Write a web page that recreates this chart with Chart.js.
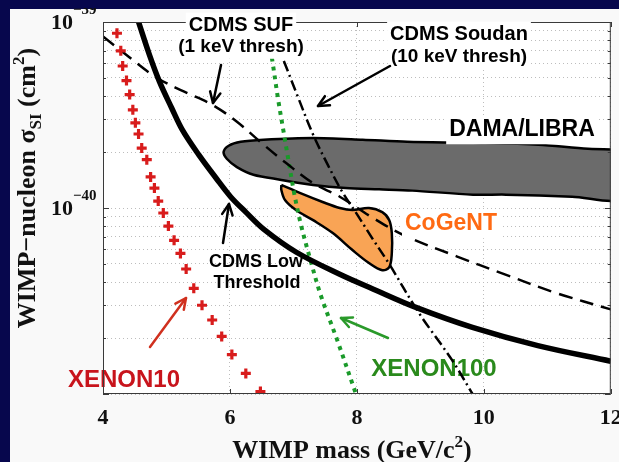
<!DOCTYPE html>
<html>
<head>
<meta charset="utf-8">
<script src="https://cdn.jsdelivr.net/npm/chart.js@4.4.0/dist/chart.umd.min.js"></script>
<style>
  html, body { margin: 0; padding: 0; background: #07074d; }
  #wrap { width: 619px; height: 462px; }
</style>
</head>
<body>
<div id="wrap"><canvas id="limits" width="619" height="462"></canvas></div>
<script>
// WIMP mass (GeV/c^2) and spin-independent cross section (cm^2)
const xenon10Mass  = [4.22, 4.28, 4.31, 4.37, 4.42, 4.47, 4.51, 4.56, 4.61, 4.69, 4.75, 4.81, 4.87, 4.95, 5.03, 5.12, 5.22, 5.31, 5.43, 5.56, 5.72, 5.87, 6.03, 6.25, 6.48];
const xenon10Sigma = [8.7e-40, 7.0e-40, 5.8e-40, 4.84e-40, 4.07e-40, 3.37e-40, 2.87e-40, 2.5e-40, 2.1e-40, 1.82e-40, 1.47e-40, 1.28e-40, 1.09e-40, 9.4e-41, 8.0e-41, 6.7e-41, 5.7e-41, 4.7e-41, 3.7e-41, 3.0e-41, 2.5e-41, 2.04e-41, 1.63e-41, 1.29e-41, 1.03e-41];

const cdmsLowMass  = [4.56, 4.73, 4.89, 5.08, 5.25, 5.51, 5.78, 6.01, 6.25, 6.53, 7.04, 7.73, 8.26, 8.93, 9.82, 10.85, 12.0];
const cdmsLowSigma = [1.0e-39, 6.68e-40, 4.78e-40, 3.46e-40, 2.63e-40, 1.93e-40, 1.45e-40, 1.15e-40, 9.5e-41, 7.7e-41, 5.8e-41, 4.4e-41, 3.66e-41, 2.92e-41, 2.28e-41, 1.82e-41, 1.5e-41];

const cdmsSufMass  = [4.0, 4.42, 4.84, 5.28, 5.72, 6.11, 6.53, 6.88, 7.31, 7.73, 8.24, 8.77, 9.57, 10.33, 11.13, 12.0];
const cdmsSufSigma = [8.36e-40, 6.44e-40, 5.03e-40, 4.22e-40, 3.59e-40, 2.91e-40, 2.19e-40, 1.75e-40, 1.36e-40, 1.15e-40, 8.9e-41, 7.06e-41, 5.5e-41, 4.4e-41, 3.5e-41, 2.85e-41];

const soudanMass  = [6.60, 6.84, 7.07, 7.31, 7.54, 7.77, 8.01, 8.24, 8.51, 8.97, 9.50, 9.83];
const soudanSigma = [1.0e-39, 6.28e-40, 3.96e-40, 2.48e-40, 1.71e-40, 1.22e-40, 9.16e-41, 6.89e-41, 4.99e-41, 2.75e-41, 1.52e-41, 9.9e-42];

const xenon100Mass  = [6.57, 6.67, 6.76, 6.84, 6.92, 7.01, 7.12, 7.26, 7.43, 7.68, 7.99];
const xenon100Sigma = [1.0e-39, 6.12e-40, 3.82e-40, 2.63e-40, 1.82e-40, 1.21e-40, 8.09e-41, 5.37e-41, 3.40e-41, 1.99e-41, 9.9e-42];

// closed contours (first point repeated at the end)
const damaMass  = [12.22, 11.64, 10.86, 9.83, 8.79, 8.09, 7.31, 6.53, 6.17, 5.98, 5.90, 5.95, 6.11, 6.37, 6.79, 7.31, 7.82, 8.35, 8.87, 9.83, 10.35, 11.39, 12.22, 12.22];
const damaSigma = [2.06e-40, 2.08e-40, 2.19e-40, 2.24e-40, 2.27e-40, 2.33e-40, 2.38e-40, 2.33e-40, 2.27e-40, 2.16e-40, 2.0e-40, 1.84e-40, 1.66e-40, 1.51e-40, 1.42e-40, 1.33e-40, 1.28e-40, 1.26e-40, 1.24e-40, 1.18e-40, 1.18e-40, 1.15e-40, 1.13e-40, 2.06e-40];

const cogentMass  = [6.81, 7.10, 7.46, 7.73, 7.93, 8.19, 8.40, 8.51, 8.55, 8.55, 8.51, 8.40, 8.19, 7.93, 7.62, 7.31, 7.04, 6.87, 6.81, 6.81];
const cogentSigma = [1.33e-40, 1.205e-40, 1.077e-40, 1.0e-40, 9.75e-41, 1.0e-40, 9.5e-41, 8.6e-41, 7.33e-41, 5.71e-41, 4.81e-41, 4.63e-41, 5.06e-41, 5.94e-41, 7.33e-41, 8.6e-41, 9.75e-41, 1.10e-40, 1.25e-40, 1.33e-40];

const massTicks = [4, 6, 8, 10, 12];
const sigmaMajor = [1e-41, 1e-40, 1e-39];
const sigmaLabels = { '1e-40': '\u221240', '1e-39': '\u221239' };

function pts(xs, ys) { return xs.map((x, i) => ({ x: x, y: ys[i] })); }

const sigmaTicks = [];
[1e-41, 1e-40].forEach(d => { for (let k = 1; k < 10; k++) sigmaTicks.push(+(k * d).toPrecision(3)); });
sigmaTicks.push(1e-39);

const NAVY = '#07074d';
const SERIF = '"Liberation Serif", "DejaVu Serif", serif';
const SANS = '"Liberation Sans", Arial, sans-serif';

function arrow(c, x1, y1, x2, y2, color) {
  const a = Math.atan2(y2 - y1, x2 - x1), L = 12, s = 0.45;
  c.save();
  c.strokeStyle = color; c.lineWidth = 2.5; c.lineCap = 'round'; c.lineJoin = 'round';
  c.beginPath(); c.moveTo(x1, y1); c.lineTo(x2, y2); c.stroke();
  c.beginPath();
  c.moveTo(x2 - L * Math.cos(a - s), y2 - L * Math.sin(a - s));
  c.lineTo(x2, y2);
  c.lineTo(x2 - L * Math.cos(a + s), y2 - L * Math.sin(a + s));
  c.stroke();
  c.restore();
}

function label(c, text, x, y, size, color, box) {
  c.save();
  c.font = 'bold ' + size + 'px ' + SANS;
  c.textAlign = 'center'; c.textBaseline = 'middle';
  if (box) {
    const w = c.measureText(text).width;
    c.fillStyle = '#ffffff';
    c.fillRect(x - w / 2 - 3, y - size * 0.62, w + 6, size * 1.24);
  }
  c.fillStyle = color;
  c.fillText(text, x, y);
  c.restore();
}

function pieces(c, parts, x, y, align) {
  let w = 0;
  parts.forEach(p => { c.font = p[1]; w += c.measureText(p[0]).width; });
  let cx = align === 'center' ? x - w / 2 : x;
  c.textAlign = 'left';
  parts.forEach(p => { c.font = p[1]; c.fillText(p[0], cx, y + p[2]); cx += c.measureText(p[0]).width; });
}

const backdrop = {
  id: 'backdrop',
  beforeDraw(chart) {
    const c = chart.ctx, a = chart.chartArea;
    c.save();
    c.fillStyle = NAVY; c.fillRect(0, 0, chart.width, chart.height);
    c.fillStyle = '#f9f9f9'; c.fillRect(10, 9, chart.width - 10, chart.height - 9);
    c.fillStyle = '#ffffff'; c.fillRect(a.left, a.top, a.right - a.left, a.bottom - a.top);
    c.restore();
  },
  beforeDatasetsDraw(chart) {
    const c = chart.ctx;
    label(c, 'XENON10', 124, 380, 24, '#c8141c', false);
    label(c, 'XENON100', 434, 369, 24, '#2a8a1c', false);
  },
  afterDatasetsDraw(chart) {
    const c = chart.ctx, a = chart.chartArea;
    const xs = chart.scales.x, ys = chart.scales.y;
    c.save();
    // frame
    c.strokeStyle = '#3a3a3a'; c.lineWidth = 1;
    c.strokeRect(a.left + 0.5, a.top + 0.5, a.right - a.left - 1, a.bottom - a.top - 1);
    // inward tick marks
    c.beginPath();
    massTicks.forEach(v => {
      const p = Math.round(xs.getPixelForValue(v)) + 0.5;
      c.moveTo(p, a.bottom); c.lineTo(p, a.bottom - 5);
      c.moveTo(p, a.top); c.lineTo(p, a.top + 5);
    });
    sigmaTicks.forEach(v => {
      const p = Math.round(ys.getPixelForValue(v)) + 0.5;
      const len = sigmaMajor.includes(v) ? 6 : 3;
      c.moveTo(a.left, p); c.lineTo(a.left + len, p);
      c.moveTo(a.right, p); c.lineTo(a.right - len, p);
    });
    c.stroke();
    // tick labels
    c.fillStyle = '#111';
    c.font = 'bold 22px ' + SERIF;
    c.textAlign = 'center'; c.textBaseline = 'middle';
    massTicks.forEach(v => c.fillText(String(v), xs.getPixelForValue(v), 418));
    Object.keys(sigmaLabels).forEach(k => {
      const p = ys.getPixelForValue(Number(k));
      c.textAlign = 'right'; c.textBaseline = 'middle';
      c.font = 'bold 22px ' + SERIF;
      c.fillText('10', 73, p + 1);
      c.textAlign = 'left';
      c.font = 'bold 15px ' + SERIF;
      c.fillText(sigmaLabels[k], 73, p - 12);
    });
    // axis titles
    c.textBaseline = 'alphabetic';
    const big = 'bold 26px ' + SERIF, small = 'bold 17px ' + SERIF;
    pieces(c, [['WIMP mass (GeV/c', big, 0], ['2', small, -11], [')', big, 0]], 352, 458, 'center');
    c.save();
    c.translate(35, 188);
    c.rotate(-Math.PI / 2);
    pieces(c, [['WIMP\u2212nucleon \u03c3', big, 0], ['SI', small, 6], [' (cm', big, 0], ['2', small, -11], [')', big, 0]], 0, 0, 'center');
    c.restore();
    c.restore();

    // annotations
    label(c, 'CDMS SUF', 241, 25, 20, '#000', true);
    label(c, '(1 keV thresh)', 241, 47, 19, '#000', true);
    label(c, 'CDMS Soudan', 459, 34, 20, '#000', true);
    label(c, '(10 keV thresh)', 459, 57, 19, '#000', true);
    label(c, 'DAMA/LIBRA', 522, 130, 23, '#000', true);
    label(c, 'CoGeNT', 451, 224, 23, '#ff6a13', true);
    label(c, 'CDMS Low', 256, 262, 18, '#000', false);
    label(c, 'Threshold', 257, 283, 18, '#000', false);
    arrow(c, 221, 65, 213, 103, '#000');
    arrow(c, 390, 66, 318, 106, '#000');
    arrow(c, 223, 243, 229, 204, '#000');
    arrow(c, 150, 347, 186, 298, '#d0301e');
    arrow(c, 388, 338, 341, 318, '#2a9a2a');

    // the top navy band cuts the upper tick label
    c.fillStyle = NAVY; c.fillRect(0, 0, chart.width, 8);
  }
};

const lineBase = { pointRadius: 0, fill: false, tension: 0.35 };

new Chart(document.getElementById('limits'), {
  type: 'line',
  data: {
    datasets: [
      { label: 'XENON10', data: pts(xenon10Mass, xenon10Sigma), showLine: false,
        pointStyle: 'cross', pointRadius: 5, pointBorderWidth: 3.2,
        pointBorderColor: '#d81c1c', pointBackgroundColor: '#d81c1c', order: 0 },
      Object.assign({ label: 'CDMS Low Threshold', data: pts(cdmsLowMass, cdmsLowSigma),
        borderColor: '#000', borderWidth: 5.5, order: 1 }, lineBase),
      Object.assign({ label: 'CDMS SUF', data: pts(cdmsSufMass, cdmsSufSigma),
        borderColor: '#000', borderWidth: 2.5, borderDash: [14, 8], order: 1 }, lineBase),
      Object.assign({ label: 'CDMS Soudan', data: pts(soudanMass, soudanSigma),
        borderColor: '#000', borderWidth: 2.5, borderDash: [11, 4, 2, 4], order: 1 }, lineBase),
      Object.assign({ label: 'XENON100', data: pts(xenon100Mass, xenon100Sigma),
        borderColor: '#1a9a2a', borderWidth: 4, borderDash: [4, 5], order: 1 }, lineBase),
      { label: 'CoGeNT', data: pts(cogentMass, cogentSigma), fill: 'shape',
        backgroundColor: '#f9a455', borderColor: '#000', borderWidth: 2.5,
        pointRadius: 0, tension: 0.35, order: 5 },
      { label: 'DAMA/LIBRA', data: pts(damaMass, damaSigma), fill: 'shape',
        backgroundColor: '#6b6b6b', borderColor: '#000', borderWidth: 2.5,
        pointRadius: 0, tension: 0.3, order: 6 }
    ]
  },
  options: {
    responsive: false,
    animation: false,
    devicePixelRatio: 1,
    layout: { padding: { left: 103, top: 22, right: 3, bottom: 68 } },
    plugins: { legend: { display: false }, tooltip: { enabled: false } },
    events: [],
    scales: {
      x: {
        type: 'linear', min: 4, max: 12,
        ticks: { display: false, stepSize: 2 },
        grid: { color: '#bdbdbd', drawTicks: false },
        border: { display: false, dash: [1, 3] }
      },
      y: {
        type: 'logarithmic', min: 1e-41, max: 1e-39,
        afterBuildTicks: s => { s.ticks = sigmaTicks.map(v => ({ value: v })); },
        ticks: { display: false },
        grid: { color: '#bdbdbd', drawTicks: false },
        border: { display: false, dash: [1, 3] }
      }
    }
  },
  plugins: [backdrop]
});
</script>
</body>
</html>
